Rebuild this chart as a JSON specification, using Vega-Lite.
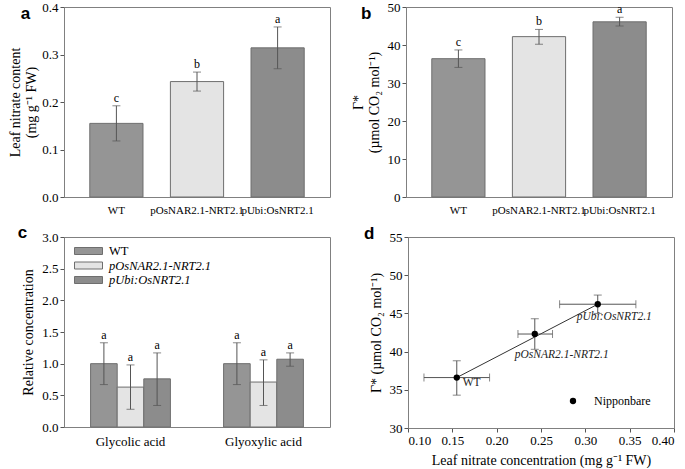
{
  "$schema": "https://vega.github.io/schema/vega-lite/v6.json",
  "background": "white",
  "padding": {"left": 8, "top": 0, "right": 5, "bottom": 0},
  "config": {
    "font": "Liberation Serif",
    "view": {"stroke": "#808080", "strokeWidth": 1},
    "axis": {"labelFont": "Liberation Serif", "titleFont": "Liberation Serif", "labelColor": "black", "titleColor": "black", "titleFontWeight": "normal", "domainColor": "#808080", "tickColor": "#555555", "grid": false, "labelFontSize": 13, "titleFontSize": 14, "tickSize": 4, "labelOverlap": false},
    "title": {"font": "Liberation Sans", "fontWeight": "bold", "fontSize": 17, "anchor": "start", "frame": "bounds", "color": "black"},
    "legend": {"labelFont": "Liberation Serif", "labelColor": "black", "padding": 0}
  },
  "resolve": {"scale": {"fill": "independent", "color": "independent"}, "legend": {"fill": "independent", "color": "independent"}},
  "datasets": {
    "nitrate": [
      {"line": "WT", "value": 0.155, "lo": 0.118, "hi": 0.192, "letter": "c"},
      {"line": "pOsNAR2.1-NRT2.1", "value": 0.243, "lo": 0.223, "hi": 0.263, "letter": "b"},
      {"line": "pUbi:OsNRT2.1", "value": 0.314, "lo": 0.27, "hi": 0.358, "letter": "a"}
    ],
    "gamma": [
      {"line": "WT", "value": 36.4, "lo": 34.1, "hi": 38.7, "letter": "c"},
      {"line": "pOsNAR2.1-NRT2.1", "value": 42.2, "lo": 40.2, "hi": 44.1, "letter": "b"},
      {"line": "pUbi:OsNRT2.1", "value": 46.1, "lo": 45.0, "hi": 47.3, "letter": "a"}
    ],
    "acids": [
      {"acid": "Glycolic acid", "line": "WT", "value": 1.0, "lo": 0.67, "hi": 1.33, "letter": "a"},
      {"acid": "Glycolic acid", "line": "pOsNAR2.1-NRT2.1", "value": 0.63, "lo": 0.28, "hi": 0.98, "letter": "a"},
      {"acid": "Glycolic acid", "line": "pUbi:OsNRT2.1", "value": 0.76, "lo": 0.34, "hi": 1.17, "letter": "a"},
      {"acid": "Glyoxylic acid", "line": "WT", "value": 1.0, "lo": 0.67, "hi": 1.33, "letter": "a"},
      {"acid": "Glyoxylic acid", "line": "pOsNAR2.1-NRT2.1", "value": 0.71, "lo": 0.34, "hi": 1.06, "letter": "a"},
      {"acid": "Glyoxylic acid", "line": "pUbi:OsNRT2.1", "value": 1.07, "lo": 0.96, "hi": 1.17, "letter": "a"}
    ],
    "scatter": [
      {"line": "WT", "cultivar": "Nipponbare", "x": 0.155, "xlo": 0.118, "xhi": 0.192, "y": 36.6, "ylo": 34.3, "yhi": 38.8},
      {"line": "pOsNAR2.1-NRT2.1", "cultivar": "Nipponbare", "x": 0.243, "xlo": 0.224, "xhi": 0.263, "y": 42.3, "ylo": 40.3, "yhi": 44.3},
      {"line": "pUbi:OsNRT2.1", "cultivar": "Nipponbare", "x": 0.314, "xlo": 0.271, "xhi": 0.357, "y": 46.2, "ylo": 45.0, "yhi": 47.4}
    ],
    "fit": [
      {"x": 0.155, "y": 36.6},
      {"x": 0.314, "y": 46.2}
    ]
  },
  "vconcat": [
    {
      "resolve": {"scale": {"fill": "independent", "color": "independent"}, "legend": {"fill": "independent", "color": "independent"}},
      "hconcat": [
        {
          "width": 266, "height": 190,
          "title": {"text": "a", "dx": 12, "dy": 26},
          "data": {"name": "nitrate"},
          "encoding": {
            "x": {"field": "line", "type": "nominal", "sort": null,
                  "scale": {"paddingInner": 0.34, "paddingOuter": 0.32},
                  "axis": {"title": null, "labelAngle": 0, "ticks": false, "labelFont": "Liberation Serif", "labelFontSize": 11, "labelPadding": 7, "domain": false}}
          },
          "layer": [
            {"mark": {"type": "bar", "stroke": "#6e6e6e", "strokeWidth": 1},
             "encoding": {
               "y": {"field": "value", "type": "quantitative", "scale": {"domain": [0, 0.4], "nice": false},
                     "axis": {"values": [0, 0.1, 0.2, 0.3, 0.4], "format": ".1f", "labelFont": "Liberation Serif", "labelFontSize": 13, "labelOverlap": false, "title": ["Leaf nitrate content", "(mg g⁻¹ FW)"], "titlePadding": 3}},
               "fill": {"field": "line", "type": "nominal", "sort": null, "scale": {"range": ["#959595", "#e4e4e4", "#8c8c8c"]}, "legend": null}
             }},
            {"mark": {"type": "rule", "color": "#555555"},
             "encoding": {"y": {"field": "lo", "type": "quantitative",
                     "axis": {"values": [0, 0.1, 0.2, 0.3, 0.4], "format": ".1f", "labelFont": "Liberation Serif", "labelFontSize": 13, "labelOverlap": false, "title": ["Leaf nitrate content", "(mg g⁻¹ FW)"], "titlePadding": 3}}, "y2": {"field": "hi"}}},
            {"mark": {"type": "tick", "color": "#555555", "size": 8, "thickness": 1},
             "encoding": {"y": {"field": "lo", "type": "quantitative",
                     "axis": {"values": [0, 0.1, 0.2, 0.3, 0.4], "format": ".1f", "labelFont": "Liberation Serif", "labelFontSize": 13, "labelOverlap": false, "title": ["Leaf nitrate content", "(mg g⁻¹ FW)"], "titlePadding": 3}}}},
            {"mark": {"type": "tick", "color": "#555555", "size": 8, "thickness": 1},
             "encoding": {"y": {"field": "hi", "type": "quantitative",
                     "axis": {"values": [0, 0.1, 0.2, 0.3, 0.4], "format": ".1f", "labelFont": "Liberation Serif", "labelFontSize": 13, "labelOverlap": false, "title": ["Leaf nitrate content", "(mg g⁻¹ FW)"], "titlePadding": 3}}}},
            {"mark": {"type": "text", "baseline": "bottom", "dy": -1, "fontSize": 12, "font": "Liberation Serif", "color": "black"},
             "encoding": {"y": {"field": "hi", "type": "quantitative",
                     "axis": {"values": [0, 0.1, 0.2, 0.3, 0.4], "format": ".1f", "labelFont": "Liberation Serif", "labelFontSize": 13, "labelOverlap": false, "title": ["Leaf nitrate content", "(mg g⁻¹ FW)"], "titlePadding": 3}}, "text": {"field": "letter"}}}
          ]
        },
        {
          "width": 266, "height": 190,
          "title": {"text": "b", "dx": 10, "dy": 26},
          "data": {"name": "gamma"},
          "encoding": {
            "x": {"field": "line", "type": "nominal", "sort": null,
                  "scale": {"paddingInner": 0.34, "paddingOuter": 0.32},
                  "axis": {"title": null, "labelAngle": 0, "ticks": false, "labelFont": "Liberation Serif", "labelFontSize": 11, "labelPadding": 7, "domain": false}}
          },
          "layer": [
            {"mark": {"type": "bar", "stroke": "#6e6e6e", "strokeWidth": 1},
             "encoding": {
               "y": {"field": "value", "type": "quantitative", "scale": {"domain": [0, 50], "nice": false},
                     "axis": {"values": [0, 10, 20, 30, 40, 50], "labelFont": "Liberation Serif", "labelFontSize": 13, "labelOverlap": false, "title": ["Γ*", "(µmol CO₂ mol⁻¹)"], "titlePadding": 6}},
               "fill": {"field": "line", "type": "nominal", "sort": null, "scale": {"range": ["#959595", "#e4e4e4", "#8c8c8c"]}, "legend": null}
             }},
            {"mark": {"type": "rule", "color": "#555555"},
             "encoding": {"y": {"field": "lo", "type": "quantitative",
                     "axis": {"values": [0, 10, 20, 30, 40, 50], "labelFont": "Liberation Serif", "labelFontSize": 13, "labelOverlap": false, "title": ["Γ*", "(µmol CO₂ mol⁻¹)"], "titlePadding": 6}}, "y2": {"field": "hi"}}},
            {"mark": {"type": "tick", "color": "#555555", "size": 8, "thickness": 1},
             "encoding": {"y": {"field": "lo", "type": "quantitative",
                     "axis": {"values": [0, 10, 20, 30, 40, 50], "labelFont": "Liberation Serif", "labelFontSize": 13, "labelOverlap": false, "title": ["Γ*", "(µmol CO₂ mol⁻¹)"], "titlePadding": 6}}}},
            {"mark": {"type": "tick", "color": "#555555", "size": 8, "thickness": 1},
             "encoding": {"y": {"field": "hi", "type": "quantitative",
                     "axis": {"values": [0, 10, 20, 30, 40, 50], "labelFont": "Liberation Serif", "labelFontSize": 13, "labelOverlap": false, "title": ["Γ*", "(µmol CO₂ mol⁻¹)"], "titlePadding": 6}}}},
            {"mark": {"type": "text", "baseline": "bottom", "dy": -1, "fontSize": 12, "font": "Liberation Serif", "color": "black"},
             "encoding": {"y": {"field": "hi", "type": "quantitative",
                     "axis": {"values": [0, 10, 20, 30, 40, 50], "labelFont": "Liberation Serif", "labelFontSize": 13, "labelOverlap": false, "title": ["Γ*", "(µmol CO₂ mol⁻¹)"], "titlePadding": 6}}, "text": {"field": "letter"}}}
          ]
        }
      ],
      "spacing": 19
    },
    {
      "resolve": {"scale": {"fill": "independent", "color": "independent"}, "legend": {"fill": "independent", "color": "independent"}},
      "hconcat": [
        {
          "width": 266, "height": 190,
          "title": {"text": "c", "dx": -4, "dy": 15},
          "data": {"name": "acids"},
          "encoding": {
            "x": {"field": "acid", "type": "nominal", "sort": null,
                  "scale": {"paddingInner": 0.4, "paddingOuter": 0.2},
                  "axis": {"title": null, "labelAngle": 0, "ticks": false, "labelFont": "Liberation Serif", "labelFontSize": 13, "labelPadding": 8, "domain": false}},
            "xOffset": {"field": "line", "type": "nominal", "sort": ["WT", "pOsNAR2.1-NRT2.1", "pUbi:OsNRT2.1"], "scale": {"paddingInner": 0, "paddingOuter": 0}}
          },
          "layer": [
            {"mark": {"type": "bar", "stroke": "#6e6e6e", "strokeWidth": 1},
             "encoding": {
               "y": {"field": "value", "type": "quantitative", "scale": {"domain": [0, 3], "nice": false},
                     "axis": {"values": [0, 0.5, 1, 1.5, 2, 2.5, 3], "format": ".1f", "labelFont": "Liberation Serif", "labelFontSize": 13, "labelOverlap": false, "title": "Relative concentration", "titlePadding": 6}},
               "fill": {"field": "line", "type": "nominal", "sort": ["WT", "pOsNAR2.1-NRT2.1", "pUbi:OsNRT2.1"],
                        "scale": {"range": ["#959595", "#e4e4e4", "#8c8c8c"]},
                        "legend": {"orient": "none", "legendX": 17, "legendY": 6.5, "title": null, "symbolType": "M-2,-0.5H2V0.5H-2Z", "symbolSize": 196, "symbolStrokeColor": "#6e6e6e", "symbolStrokeWidth": 1, "labelFont": "Liberation Serif", "labelFontSize": 12.5, "rowPadding": 0.5, "labelOffset": 13,
                                   "encode": {"labels": {"update": {"fontStyle": {"signal": "datum.label == 'WT' ? 'normal' : 'italic'"}}}}}}
             }},
            {"mark": {"type": "rule", "color": "#555555"},
             "encoding": {"y": {"field": "lo", "type": "quantitative",
                     "axis": {"values": [0, 0.5, 1, 1.5, 2, 2.5, 3], "format": ".1f", "labelFont": "Liberation Serif", "labelFontSize": 13, "labelOverlap": false, "title": "Relative concentration", "titlePadding": 6}}, "y2": {"field": "hi"}}},
            {"mark": {"type": "tick", "color": "#555555", "size": 8, "thickness": 1},
             "encoding": {"y": {"field": "lo", "type": "quantitative",
                     "axis": {"values": [0, 0.5, 1, 1.5, 2, 2.5, 3], "format": ".1f", "labelFont": "Liberation Serif", "labelFontSize": 13, "labelOverlap": false, "title": "Relative concentration", "titlePadding": 6}}}},
            {"mark": {"type": "tick", "color": "#555555", "size": 8, "thickness": 1},
             "encoding": {"y": {"field": "hi", "type": "quantitative",
                     "axis": {"values": [0, 0.5, 1, 1.5, 2, 2.5, 3], "format": ".1f", "labelFont": "Liberation Serif", "labelFontSize": 13, "labelOverlap": false, "title": "Relative concentration", "titlePadding": 6}}}},
            {"mark": {"type": "text", "baseline": "bottom", "dy": -1, "fontSize": 12, "font": "Liberation Serif", "color": "black"},
             "encoding": {"y": {"field": "hi", "type": "quantitative",
                     "axis": {"values": [0, 0.5, 1, 1.5, 2, 2.5, 3], "format": ".1f", "labelFont": "Liberation Serif", "labelFontSize": 13, "labelOverlap": false, "title": "Relative concentration", "titlePadding": 6}}, "text": {"field": "letter"}}}
          ]
        },
        {
          "width": 266, "height": 191,
          "title": {"text": "d", "dx": -5, "dy": 16},
          "data": {"name": "scatter"},
          "layer": [
            {"data": {"name": "fit"},
             "mark": {"type": "line", "color": "#333333", "strokeWidth": 1},
             "encoding": {
               "x": {"field": "x", "type": "quantitative", "scale": {"domain": [0.1, 0.4], "nice": false},
                     "axis": {"values": [0.1, 0.15, 0.2, 0.25, 0.3, 0.35, 0.4], "format": ".2f", "labelFont": "Liberation Serif", "labelFontSize": 13, "labelOverlap": false, "title": "Leaf nitrate concentration (mg g⁻¹ FW)", "titlePadding": 6}},
               "y": {"field": "y", "type": "quantitative", "scale": {"domain": [30, 55], "nice": false},
                     "axis": {"values": [30, 35, 40, 45, 50, 55], "labelFont": "Liberation Serif", "labelFontSize": 13, "labelOverlap": false, "title": "Γ* (µmol CO₂ mol⁻¹)", "titlePadding": 6}}
             }},
            {"mark": {"type": "rule", "color": "#555555"},
             "encoding": {
               "x": {"field": "xlo", "type": "quantitative", "axis": {"values": [0.1, 0.15, 0.2, 0.25, 0.3, 0.35, 0.4], "format": ".2f", "labelFont": "Liberation Serif", "labelFontSize": 13, "labelOverlap": false, "title": "Leaf nitrate concentration (mg g⁻¹ FW)", "titlePadding": 6}},
               "x2": {"field": "xhi"},
               "y": {"field": "y", "type": "quantitative", "axis": {"values": [30, 35, 40, 45, 50, 55], "labelFont": "Liberation Serif", "labelFontSize": 13, "labelOverlap": false, "title": "Γ* (µmol CO₂ mol⁻¹)", "titlePadding": 6}}}},
            {"mark": {"type": "rule", "color": "#555555"},
             "encoding": {
               "x": {"field": "x", "type": "quantitative", "axis": {"values": [0.1, 0.15, 0.2, 0.25, 0.3, 0.35, 0.4], "format": ".2f", "labelFont": "Liberation Serif", "labelFontSize": 13, "labelOverlap": false, "title": "Leaf nitrate concentration (mg g⁻¹ FW)", "titlePadding": 6}},
               "y": {"field": "ylo", "type": "quantitative", "axis": {"values": [30, 35, 40, 45, 50, 55], "labelFont": "Liberation Serif", "labelFontSize": 13, "labelOverlap": false, "title": "Γ* (µmol CO₂ mol⁻¹)", "titlePadding": 6}},
               "y2": {"field": "yhi"}}},
            {"mark": {"type": "tick", "color": "#555555", "size": 8, "thickness": 1, "orient": "vertical"},
             "encoding": {
               "x": {"field": "xlo", "type": "quantitative", "axis": {"values": [0.1, 0.15, 0.2, 0.25, 0.3, 0.35, 0.4], "format": ".2f", "labelFont": "Liberation Serif", "labelFontSize": 13, "labelOverlap": false, "title": "Leaf nitrate concentration (mg g⁻¹ FW)", "titlePadding": 6}},
               "y": {"field": "y", "type": "quantitative", "axis": {"values": [30, 35, 40, 45, 50, 55], "labelFont": "Liberation Serif", "labelFontSize": 13, "labelOverlap": false, "title": "Γ* (µmol CO₂ mol⁻¹)", "titlePadding": 6}}}},
            {"mark": {"type": "tick", "color": "#555555", "size": 8, "thickness": 1, "orient": "vertical"},
             "encoding": {
               "x": {"field": "xhi", "type": "quantitative", "axis": {"values": [0.1, 0.15, 0.2, 0.25, 0.3, 0.35, 0.4], "format": ".2f", "labelFont": "Liberation Serif", "labelFontSize": 13, "labelOverlap": false, "title": "Leaf nitrate concentration (mg g⁻¹ FW)", "titlePadding": 6}},
               "y": {"field": "y", "type": "quantitative", "axis": {"values": [30, 35, 40, 45, 50, 55], "labelFont": "Liberation Serif", "labelFontSize": 13, "labelOverlap": false, "title": "Γ* (µmol CO₂ mol⁻¹)", "titlePadding": 6}}}},
            {"mark": {"type": "tick", "color": "#555555", "size": 8, "thickness": 1, "orient": "horizontal"},
             "encoding": {
               "x": {"field": "x", "type": "quantitative", "axis": {"values": [0.1, 0.15, 0.2, 0.25, 0.3, 0.35, 0.4], "format": ".2f", "labelFont": "Liberation Serif", "labelFontSize": 13, "labelOverlap": false, "title": "Leaf nitrate concentration (mg g⁻¹ FW)", "titlePadding": 6}},
               "y": {"field": "ylo", "type": "quantitative", "axis": {"values": [30, 35, 40, 45, 50, 55], "labelFont": "Liberation Serif", "labelFontSize": 13, "labelOverlap": false, "title": "Γ* (µmol CO₂ mol⁻¹)", "titlePadding": 6}}}},
            {"mark": {"type": "tick", "color": "#555555", "size": 8, "thickness": 1, "orient": "horizontal"},
             "encoding": {
               "x": {"field": "x", "type": "quantitative", "axis": {"values": [0.1, 0.15, 0.2, 0.25, 0.3, 0.35, 0.4], "format": ".2f", "labelFont": "Liberation Serif", "labelFontSize": 13, "labelOverlap": false, "title": "Leaf nitrate concentration (mg g⁻¹ FW)", "titlePadding": 6}},
               "y": {"field": "yhi", "type": "quantitative", "axis": {"values": [30, 35, 40, 45, 50, 55], "labelFont": "Liberation Serif", "labelFontSize": 13, "labelOverlap": false, "title": "Γ* (µmol CO₂ mol⁻¹)", "titlePadding": 6}}}},
            {"mark": {"type": "point", "filled": true, "size": 40, "opacity": 1},
             "encoding": {
               "x": {"field": "x", "type": "quantitative", "axis": {"values": [0.1, 0.15, 0.2, 0.25, 0.3, 0.35, 0.4], "format": ".2f", "labelFont": "Liberation Serif", "labelFontSize": 13, "labelOverlap": false, "title": "Leaf nitrate concentration (mg g⁻¹ FW)", "titlePadding": 6}},
               "y": {"field": "y", "type": "quantitative", "axis": {"values": [30, 35, 40, 45, 50, 55], "labelFont": "Liberation Serif", "labelFontSize": 13, "labelOverlap": false, "title": "Γ* (µmol CO₂ mol⁻¹)", "titlePadding": 6}},
               "color": {"field": "cultivar", "type": "nominal", "scale": {"range": ["black"]},
                         "legend": {"orient": "none", "legendX": 159, "legendY": 158, "title": null, "labelFont": "Liberation Serif", "labelFontSize": 12, "symbolSize": 40, "labelOffset": 15}}}},
            {"transform": [{"filter": "datum.line == 'WT'"}],
             "mark": {"type": "text", "align": "left", "baseline": "middle", "dx": 6, "dy": 5, "fontSize": 11.5, "font": "Liberation Serif", "color": "#222222"},
             "encoding": {
               "x": {"field": "x", "type": "quantitative", "axis": {"values": [0.1, 0.15, 0.2, 0.25, 0.3, 0.35, 0.4], "format": ".2f", "labelFont": "Liberation Serif", "labelFontSize": 13, "labelOverlap": false, "title": "Leaf nitrate concentration (mg g⁻¹ FW)", "titlePadding": 6}},
               "y": {"field": "y", "type": "quantitative", "axis": {"values": [30, 35, 40, 45, 50, 55], "labelFont": "Liberation Serif", "labelFontSize": 13, "labelOverlap": false, "title": "Γ* (µmol CO₂ mol⁻¹)", "titlePadding": 6}},
               "text": {"field": "line"}}},
            {"transform": [{"filter": "datum.line == 'pOsNAR2.1-NRT2.1'"}],
             "mark": {"type": "text", "align": "left", "baseline": "middle", "dx": -20, "dy": 21, "fontSize": 11.5, "font": "Liberation Serif", "fontStyle": "italic", "color": "#222222"},
             "encoding": {
               "x": {"field": "x", "type": "quantitative", "axis": {"values": [0.1, 0.15, 0.2, 0.25, 0.3, 0.35, 0.4], "format": ".2f", "labelFont": "Liberation Serif", "labelFontSize": 13, "labelOverlap": false, "title": "Leaf nitrate concentration (mg g⁻¹ FW)", "titlePadding": 6}},
               "y": {"field": "y", "type": "quantitative", "axis": {"values": [30, 35, 40, 45, 50, 55], "labelFont": "Liberation Serif", "labelFontSize": 13, "labelOverlap": false, "title": "Γ* (µmol CO₂ mol⁻¹)", "titlePadding": 6}},
               "text": {"field": "line"}}},
            {"transform": [{"filter": "datum.line == 'pUbi:OsNRT2.1'"}],
             "mark": {"type": "text", "align": "left", "baseline": "middle", "dx": -21, "dy": 13, "fontSize": 11.5, "font": "Liberation Serif", "fontStyle": "italic", "color": "#222222"},
             "encoding": {
               "x": {"field": "x", "type": "quantitative", "axis": {"values": [0.1, 0.15, 0.2, 0.25, 0.3, 0.35, 0.4], "format": ".2f", "labelFont": "Liberation Serif", "labelFontSize": 13, "labelOverlap": false, "title": "Leaf nitrate concentration (mg g⁻¹ FW)", "titlePadding": 6}},
               "y": {"field": "y", "type": "quantitative", "axis": {"values": [30, 35, 40, 45, 50, 55], "labelFont": "Liberation Serif", "labelFontSize": 13, "labelOverlap": false, "title": "Γ* (µmol CO₂ mol⁻¹)", "titlePadding": 6}},
               "text": {"field": "line"}}}
          ]
        }
      ],
      "spacing": 32
    }
  ],
  "spacing": 7
}
